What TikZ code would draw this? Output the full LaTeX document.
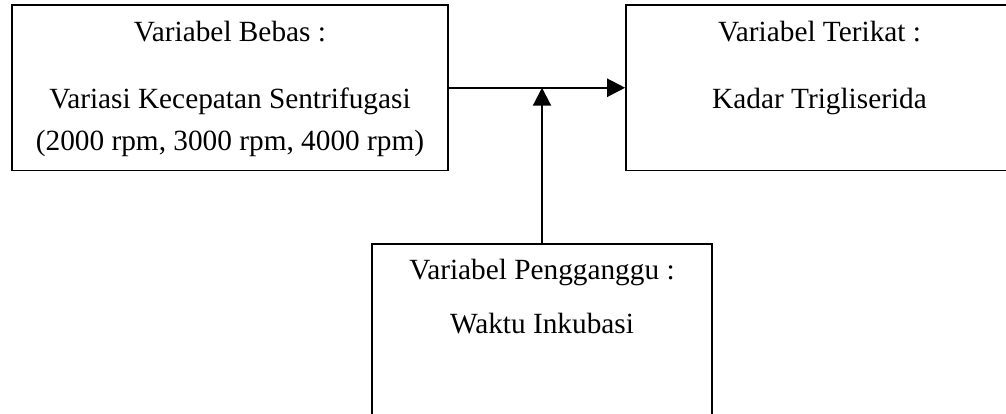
\documentclass[tikz,border=0pt]{standalone}
\usepackage{fontspec}
\setmainfont{Liberation Serif}
\usetikzlibrary{arrows.meta}
\tikzset{
  box/.style={draw=black, line width=1.6pt, rectangle, inner sep=0pt},
  txt/.style={anchor=base, inner sep=0pt, font=\fontsize{29.3}{35}\selectfont},
  arr/.style={line width=2.2pt, -{Triangle[length=18pt,width=18pt]}}
}
\begin{document}
\begin{tikzpicture}[x=1pt,y=-1pt]
\useasboundingbox (0,0) rectangle (1006,414);
\clip (0,0) rectangle (1006,414);
\fill[white] (0,0) rectangle (1006,414);
% boxes
\node[box, minimum width=436pt, minimum height=165.5pt] (a) at (230,87.75) {};
\node[box, minimum width=387pt, minimum height=165.5pt] (b) at (819.5,87.75) {};
\node[box, minimum width=340pt, minimum height=200pt] (c) at (542,344) {};
% texts
\node[txt] (a1) at (230,42) {Variabel Bebas :};
\node[txt] (a2) at (230,108.3) {Variasi Kecepatan Sentrifugasi};
\node[txt] (a3) at (230,151) {(2000 rpm, 3000 rpm, 4000 rpm)};
\node[txt] (b1) at (819.5,42) {Variabel Terikat :};
\node[txt] (b2) at (819.5,108.3) {Kadar Trigliserida};
\node[txt] (c1) at (542,279) {Variabel Pengganggu :};
\node[txt] (c2) at (542,333) {Waktu Inkubasi};
% connectors
\draw[arr] (a.east) -- (b.west);
\draw[arr] (c.north) -- (c.north |- a.east);
\end{tikzpicture}
\end{document}
